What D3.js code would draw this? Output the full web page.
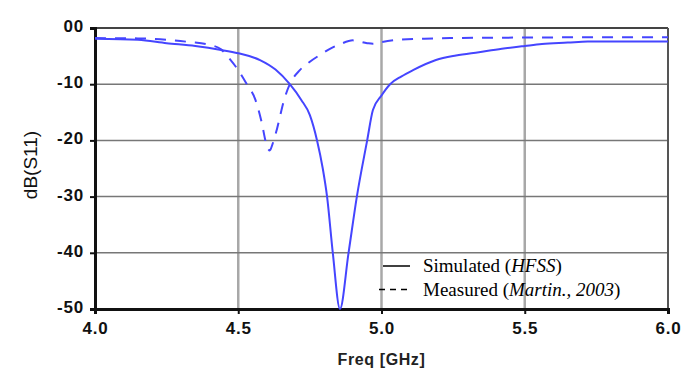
<!DOCTYPE html>
<html>
<head>
<meta charset="utf-8">
<script src="https://cdn.jsdelivr.net/npm/d3@7"></script>
<style>
  body { margin: 0; background: #fff; }
  svg { display: block; }
</style>
</head>
<body>
<div id="chart"></div>
<script>
// Simulated (HFSS) S11 in dB vs. frequency in GHz
const simFreq = [4.0, 4.15, 4.25, 4.35, 4.44, 4.5, 4.576, 4.63, 4.68, 4.72, 4.75, 4.775, 4.795, 4.81, 4.83, 4.855, 4.885, 4.914, 4.95, 4.97, 5.0, 5.03, 5.07, 5.11, 5.19, 5.26, 5.34, 5.42, 5.5, 5.56, 5.65, 5.72, 5.85, 6.0];
const simDb = [-1.9, -2.1, -2.7, -3.2, -3.9, -4.5, -5.7, -7.4, -10, -12.8, -15.5, -20, -25, -30, -40, -50, -40, -30, -20, -14.6, -12, -10, -8.6, -7.5, -5.7, -4.9, -4.3, -3.7, -3.2, -2.85, -2.6, -2.4, -2.4, -2.4];

// Measured (Martin, 2003)
const measFreq = [4.0, 4.15, 4.25, 4.33, 4.4, 4.44, 4.47, 4.5, 4.53, 4.56, 4.58, 4.6, 4.61, 4.62, 4.635, 4.66, 4.68, 4.715, 4.75, 4.785, 4.82, 4.855, 4.9, 4.95, 4.97, 5.0, 5.06, 5.15, 5.24, 5.5, 5.75, 6.0];
const measDb = [-1.8, -1.85, -2.1, -2.5, -3.0, -3.8, -5.5, -7.5, -10, -12.8, -16.4, -21.0, -21.8, -20.6, -18, -12.8, -10, -7.5, -6.0, -4.8, -3.7, -2.9, -2.2, -2.7, -2.8, -2.5, -2.1, -1.9, -1.8, -1.7, -1.65, -1.65];

const xTicks = [4.0, 4.5, 5.0, 5.5, 6.0];
const yTicks = [0, -10, -20, -30, -40, -50];
const yTickLabels = ['00', '-10', '-20', '-30', '-40', '-50'];

const width = 697, height = 368;
const margin = { top: 28, right: 29, bottom: 59, left: 95 };
const innerW = width - margin.left - margin.right;
const innerH = height - margin.top - margin.bottom;
const lineColor = '#4545ff';

const svg = d3.select('#chart').append('svg')
  .attr('width', width)
  .attr('height', height);

const g = svg.append('g')
  .attr('transform', 'translate(' + margin.left + ',' + margin.top + ')');

const x = d3.scaleLinear().domain([4.0, 6.0]).range([0, innerW]);
const y = d3.scaleLinear().domain([-50, 0]).range([innerH, 0]);

// vertical grid (lighter, thicker)
g.selectAll('.vgrid')
  .data(xTicks.slice(1, -1))
  .enter().append('line')
  .attr('class', 'vgrid')
  .attr('x1', d => x(d)).attr('x2', d => x(d))
  .attr('y1', 0).attr('y2', innerH)
  .attr('stroke', '#a8a8a8')
  .attr('stroke-width', 2.5);

// horizontal grid
g.selectAll('.hgrid')
  .data(yTicks.slice(1, -1))
  .enter().append('line')
  .attr('class', 'hgrid')
  .attr('x1', 0).attr('x2', innerW)
  .attr('y1', d => y(d)).attr('y2', d => y(d))
  .attr('stroke', '#777')
  .attr('stroke-width', 1.5);

// frame top / right
g.append('line')
  .attr('x1', 0).attr('x2', innerW).attr('y1', 0).attr('y2', 0)
  .attr('stroke', '#444').attr('stroke-width', 2);
g.append('line')
  .attr('x1', innerW).attr('x2', innerW).attr('y1', 0).attr('y2', innerH)
  .attr('stroke', '#555').attr('stroke-width', 2);

// axes
const xAxis = d3.axisBottom(x)
  .tickValues(xTicks)
  .tickFormat(d3.format('.1f'))
  .tickSize(5)
  .tickPadding(7);

const yAxis = d3.axisLeft(y)
  .tickValues(yTicks)
  .tickFormat((d, i) => yTickLabels[i])
  .tickSize(5)
  .tickPadding(6);

const gx = g.append('g')
  .attr('transform', 'translate(0,' + innerH + ')')
  .call(xAxis);
const gy = g.append('g').call(yAxis);

[gx, gy].forEach(a => {
  a.select('.domain').attr('stroke', '#111').attr('stroke-width', 3);
  a.selectAll('.tick line').attr('stroke', '#111').attr('stroke-width', 2);
  a.selectAll('.tick text')
    .attr('fill', '#111')
    .style('font-family', 'Liberation Sans, Arial, sans-serif')
    .style('font-size', '17px')
    .style('font-weight', 'bold')
    .style('letter-spacing', '0.8px');
});
gy.selectAll('.tick text').attr('dy', '0.2em');
gx.selectAll('.tick text').attr('dy', '0.75em');

// curves
const line = d3.line()
  .x(d => x(d[0]))
  .y(d => y(d[1]))
  .curve(d3.curveMonotoneX);

const simPts = simFreq.map((f, i) => [f, simDb[i]]);
const measPts = measFreq.map((f, i) => [f, measDb[i]]);

g.append('path')
  .datum(measPts)
  .attr('d', line)
  .attr('fill', 'none')
  .attr('stroke', lineColor)
  .attr('stroke-width', 2)
  .attr('stroke-dasharray', '11 9');

g.append('path')
  .datum(simPts)
  .attr('d', line)
  .attr('fill', 'none')
  .attr('stroke', lineColor)
  .attr('stroke-width', 2);

// axis titles
svg.append('text')
  .attr('x', margin.left + x(5.0))
  .attr('y', 365)
  .attr('text-anchor', 'middle')
  .style('font-family', 'Liberation Sans, Arial, sans-serif')
  .style('font-size', '16px')
  .style('font-weight', 'bold')
  .style('letter-spacing', '0.6px')
  .attr('fill', '#222')
  .text('Freq [GHz]');

svg.append('text')
  .attr('transform', 'translate(37,165) rotate(-90)')
  .attr('text-anchor', 'middle')
  .style('font-family', 'Liberation Sans, Arial, sans-serif')
  .style('font-size', '19px')
  .attr('fill', '#111')
  .text('dB(S11)');

// legend
const legend = svg.append('g')
  .attr('transform', 'translate(383,266)');
const legendItems = [
  { label: 'Simulated (', italic: 'HFSS', tail: ')', dash: null },
  { label: 'Measured (', italic: 'Martin., 2003', tail: ')', dash: '6 5' }
];
legendItems.forEach((d, i) => {
  const row = legend.append('g').attr('transform', 'translate(0,' + (i * 23.5) + ')');
  row.append('line')
    .attr('x1', i === 0 ? 0 : -4).attr('x2', 27)
    .attr('y1', 0).attr('y2', 0)
    .attr('stroke', '#000')
    .attr('stroke-width', 1.5)
    .attr('stroke-dasharray', d.dash);
  const t = row.append('text')
    .attr('x', 40).attr('y', 6)
    .style('font-family', 'Liberation Serif, Times New Roman, serif')
    .style('font-size', '19px')
    .attr('fill', '#000');
  t.append('tspan').text(d.label);
  t.append('tspan').style('font-style', 'italic').text(d.italic);
  t.append('tspan').text(d.tail);
});
</script>
</body>
</html>
